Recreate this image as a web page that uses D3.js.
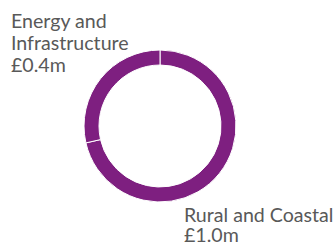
<!DOCTYPE html>
<html>
<head>
<meta charset="utf-8">
<script src="https://cdn.jsdelivr.net/npm/d3@7"></script>
<style>
  html, body { margin: 0; padding: 0; background: #fff; }
  svg { display: block; }
  .label { font-family: Lato, "Open Sans", sans-serif; font-size: 19.6px; fill: #595959; }
</style>
</head>
<body>
<div id="chart"></div>
<script>
// Data
const categories = ['Rural and Coastal', 'Energy and Infrastructure'];
const values = [1.0, 0.4];
const valueLabels = ['£1.0m', '£0.4m'];

const width = 335;
const height = 244;
const cx = 160, cy = 126;
const outerR = 76, innerR = 61;

const svg = d3.select('#chart')
  .append('svg')
  .attr('width', width)
  .attr('height', height);

const pie = d3.pie()
  .sort(null)
  .value(d => d.value);

const arc = d3.arc()
  .innerRadius(innerR)
  .outerRadius(outerR);

const data = categories.map((c, i) => ({ name: c, value: values[i], label: valueLabels[i] }));

svg.append('g')
  .attr('transform', `translate(${cx},${cy})`)
  .selectAll('path')
  .data(pie(data))
  .enter()
  .append('path')
  .attr('d', arc)
  .attr('fill', '#7e1f80')
  .attr('stroke', '#fff')
  .attr('stroke-width', 1);

// Labels: Energy (top-left), Rural (bottom-right)
const energy = svg.append('text').attr('class', 'label');
[['Energy and', 28], ['Infrastructure', 50], [valueLabels[1], 72]].forEach(([t, y]) => {
  energy.append('tspan').attr('x', 11).attr('y', y).text(t);
});

const rural = svg.append('text').attr('class', 'label');
[[categories[0], 222], [valueLabels[0], 242]].forEach(([t, y]) => {
  rural.append('tspan').attr('x', 184).attr('y', y).text(t);
});
</script>
</body>
</html>
